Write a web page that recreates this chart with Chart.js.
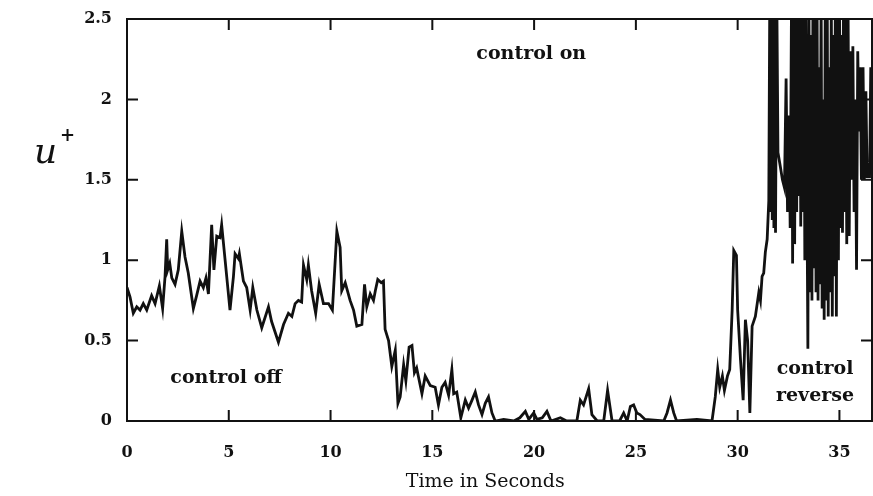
<!DOCTYPE html>
<html>
<head>
<meta charset="utf-8">
<script src="https://cdn.jsdelivr.net/npm/chart.js@4.4.1/dist/chart.umd.min.js"></script>
<style>
  html, body { margin: 0; padding: 0; background: #fff; }
  #wrap { width: 873px; height: 496px; position: relative; }
</style>
</head>
<body>
<div id="wrap"><canvas id="trace"></canvas></div>
<script>
// time (s) and u+
const times = [
  0.0, 0.15, 0.31, 0.48, 0.64, 0.8, 0.97, 1.21, 1.38, 1.59, 1.75, 1.87, 1.95, 2.0, 2.1, 2.2, 2.36, 2.52, 2.69, 2.85,
  3.01, 3.26, 3.42, 3.59, 3.75, 3.88, 4.0, 4.16, 4.27, 4.41, 4.57, 4.65, 4.82, 5.06, 5.23, 5.31, 5.47, 5.52, 5.72, 5.88,
  6.05, 6.18, 6.38, 6.62, 6.95, 7.1, 7.44, 7.69, 7.93, 8.1, 8.26, 8.42, 8.58, 8.67, 8.83, 8.91, 9.07, 9.27, 9.44, 9.65,
  9.9, 10.09, 10.31, 10.47, 10.55, 10.72, 10.96, 11.13, 11.29, 11.54, 11.67, 11.78, 11.95, 12.11, 12.2, 12.32, 12.49, 12.6, 12.68, 12.85,
  13.01, 13.18, 13.31, 13.42, 13.59, 13.7, 13.86, 14.0, 14.12, 14.23, 14.49, 14.65, 14.9, 15.14, 15.3, 15.47, 15.63, 15.8, 15.96, 16.05,
  16.2, 16.4, 16.62, 16.78, 16.95, 17.11, 17.27, 17.44, 17.6, 17.76, 17.93, 18.09, 18.5, 19.0, 19.3, 19.57, 19.74, 19.98, 20.14, 20.4,
  20.63, 20.83, 21.29, 21.6, 22.1, 22.27, 22.43, 22.68, 22.84, 23.1, 23.42, 23.61, 23.83, 24.2, 24.4, 24.57, 24.73, 24.89, 25.05, 25.2,
  25.45, 26.37, 26.53, 26.7, 26.86, 27.0, 28.0, 28.74, 28.9, 29.02, 29.12, 29.25, 29.35, 29.5, 29.61, 29.73, 29.81, 29.94, 30.0, 30.14,
  30.27, 30.38, 30.49, 30.6, 30.71, 30.87, 31.04, 31.12, 31.2, 31.28, 31.36, 31.45,
  31.53, 31.58, 31.62, 31.66, 31.7, 31.74, 31.78, 31.82, 31.86, 31.92,
  31.98, 32.1, 32.2, 32.3, 32.38, 32.45, 32.52, 32.58, 32.65, 32.7,
  32.75, 32.8, 32.85, 32.9, 32.95, 33.0, 33.05, 33.1, 33.15, 33.2,
  33.25, 33.3, 33.35, 33.4, 33.45, 33.5, 33.55, 33.6, 33.65, 33.7,
  33.75, 33.8, 33.85, 33.9, 33.95, 34.0, 34.05, 34.1, 34.15, 34.2,
  34.25, 34.3, 34.35, 34.4, 34.45, 34.5, 34.55, 34.6, 34.65, 34.7,
  34.75, 34.8, 34.85, 34.9, 34.95, 35.0, 35.05, 35.1, 35.15, 35.2,
  35.25, 35.3, 35.36, 35.42, 35.48, 35.54, 35.6, 35.66, 35.72, 35.78,
  35.84, 35.9, 35.96, 36.02, 36.08, 36.16, 36.22, 36.3, 36.36, 36.48,
  36.54, 36.6, 36.7
];
const uPlus = [
  0.83, 0.77, 0.67, 0.71, 0.69, 0.73, 0.69, 0.78, 0.73, 0.84, 0.70, 0.90, 1.13, 0.94, 0.98, 0.89, 0.85, 0.94, 1.18, 1.02,
  0.92, 0.70, 0.78, 0.87, 0.83, 0.89, 0.79, 1.22, 0.94, 1.15, 1.14, 1.22, 1.00, 0.69, 0.90, 1.04, 1.01, 1.04, 0.87, 0.83,
  0.69, 0.83, 0.69, 0.58, 0.71, 0.62, 0.49, 0.60, 0.67, 0.65, 0.73, 0.75, 0.74, 0.97, 0.88, 0.97, 0.81, 0.67, 0.85, 0.73,
  0.73, 0.69, 1.18, 1.08, 0.81, 0.86, 0.75, 0.69, 0.59, 0.60, 0.85, 0.71, 0.79, 0.75, 0.81, 0.88, 0.86, 0.87, 0.57, 0.50,
  0.34, 0.44, 0.11, 0.15, 0.35, 0.25, 0.46, 0.47, 0.30, 0.33, 0.17, 0.28, 0.22, 0.21, 0.10, 0.21, 0.24, 0.16, 0.32, 0.17,
  0.18, 0.02, 0.13, 0.08, 0.13, 0.18, 0.10, 0.04, 0.11, 0.15, 0.05, 0.0, 0.01, 0.0, 0.02, 0.06, 0.01, 0.05, 0.01, 0.02,
  0.06, 0.0, 0.02, 0.0, 0.0, 0.13, 0.10, 0.20, 0.04, 0.0, 0.0, 0.19, 0.0, 0.0, 0.05, 0.0, 0.09, 0.10, 0.05, 0.04,
  0.01, 0.0, 0.05, 0.13, 0.05, 0.0, 0.01, 0.0, 0.15, 0.32, 0.21, 0.28, 0.19, 0.28, 0.32, 0.69, 1.06, 1.03, 0.69, 0.38,
  0.13, 0.63, 0.50, 0.05, 0.59, 0.65, 0.80, 0.75, 0.90, 0.92, 1.05, 1.13,
  1.37, 2.7, 1.3, 2.7, 1.25, 2.7, 1.2, 2.7, 1.17, 2.7,
  1.67, 1.58, 1.5, 1.45, 2.13, 1.3, 1.9, 1.2, 2.7, 0.98,
  2.7, 1.1, 2.7, 1.3, 2.7, 1.4, 2.7, 1.21, 2.7, 1.3,
  2.7, 1.0, 2.5, 1.5, 0.45, 2.7, 0.8, 2.4, 0.75, 2.7,
  0.95, 2.6, 0.8, 2.7, 0.75, 2.2, 0.85, 2.7, 0.7, 2.0,
  0.63, 2.5, 0.75, 2.7, 0.65, 2.2, 0.8, 2.7, 0.65, 2.4,
  0.9, 2.7, 0.65, 2.7, 1.0, 2.7, 1.2, 2.4, 1.17, 2.7,
  1.3, 2.7, 1.1, 2.7, 1.15, 2.3, 1.5, 2.33, 1.3, 2.0,
  0.94, 2.3, 1.8, 2.2, 1.5, 2.2, 1.5, 2.05, 1.52, 1.52,
  2.2, 1.6, 2.1
];
const xTicks = [0, 5, 10, 15, 20, 25, 30, 35];
const yTicks = [0, 0.5, 1, 1.5, 2, 2.5];
const notes = [
  { text: ["control on"], t: 19.86, u: 2.28 },
  { text: ["control off"], t: 4.87, u: 0.27 },
  { text: ["control", "reverse"], t: 33.8, u: 0.32 }
];
const xTitle = "Time in Seconds";

const serif = "'DejaVu Serif', serif";

// frame with inward tick marks, annotations, axis titles
const framePlugin = {
  id: "frame",
  afterDraw(chart) {
    const { ctx, chartArea: a, scales } = chart;
    const xs = scales.x, ys = scales.y;
    ctx.save();
    ctx.strokeStyle = "#111";
    ctx.lineWidth = 2;
    ctx.strokeRect(a.left, a.top, a.right - a.left, a.bottom - a.top);
    ctx.beginPath();
    const tl = 11;
    xTicks.slice(1).forEach(v => {
      const px = xs.getPixelForValue(v);
      ctx.moveTo(px, a.bottom); ctx.lineTo(px, a.bottom - tl);
      ctx.moveTo(px, a.top); ctx.lineTo(px, a.top + tl);
    });
    yTicks.slice(1, -1).forEach(v => {
      const py = ys.getPixelForValue(v);
      ctx.moveTo(a.left, py); ctx.lineTo(a.left + tl, py);
      ctx.moveTo(a.right, py); ctx.lineTo(a.right - tl, py);
    });
    ctx.stroke();

    ctx.fillStyle = "#111";
    ctx.font = "bold 19px " + serif;
    ctx.textAlign = "center";
    ctx.textBaseline = "middle";
    notes.forEach(n => {
      const px = xs.getPixelForValue(n.t);
      const py = ys.getPixelForValue(n.u);
      n.text.forEach((s, i) => ctx.fillText(s, px, py + i * 27));
    });

    // x title sits a bit left of the plot centre in the original
    ctx.font = "19px " + serif;
    ctx.fillText(xTitle, xs.getPixelForValue(17.6), 482);

    ctx.font = "italic 36px " + serif;
    ctx.textAlign = "left";
    ctx.fillText("u", 34, 154);
    ctx.font = "bold 18px " + serif;
    ctx.fillText("+", 60, 136);
    ctx.restore();
  }
};

const traceCtx = document.getElementById("trace");
window.myTrace = new Chart(traceCtx, {
  type: "line",
  data: {
    datasets: [
      {
        data: times.map((t, i) => ({ x: t, y: uPlus[i] })),
        borderColor: "#111",
        borderWidth: 2.8,
        pointRadius: 0,
        tension: 0,
        fill: false,
      },
    ],
  },
  options: {
    responsive: true,
    maintainAspectRatio: false,
    animation: false,
    layout: { padding: { left: 0, right: 1, top: 19, bottom: 0 } },
    plugins: { legend: { display: false }, tooltip: { enabled: false } },
    scales: {
      x: {
        type: "linear",
        min: 0,
        max: 36.6,
        afterFit(scale) { scale.height = 75; scale.paddingLeft = 0; scale.paddingRight = 0; },
        afterBuildTicks(scale) { scale.ticks = xTicks.map(v => ({ value: v })); },
        grid: { display: false, drawTicks: false },
        border: { display: false },
        ticks: { color: "#111", padding: 22, maxRotation: 0, font: { family: serif, size: 16, weight: "bold" } },
      },
      y: {
        min: 0,
        max: 2.5,
        afterFit(scale) { scale.width = 127; scale.paddingTop = 0; scale.paddingBottom = 0; },
        afterBuildTicks(scale) { scale.ticks = yTicks.map(v => ({ value: v })); },
        grid: { display: false, drawTicks: false },
        border: { display: false },
        ticks: {
          color: "#111",
          padding: 15,
          font: { family: serif, size: 16, weight: "bold" },
          callback: v => String(+v),
        },
      },
    },
  },
  plugins: [framePlugin],
});
</script>
</body>
</html>
